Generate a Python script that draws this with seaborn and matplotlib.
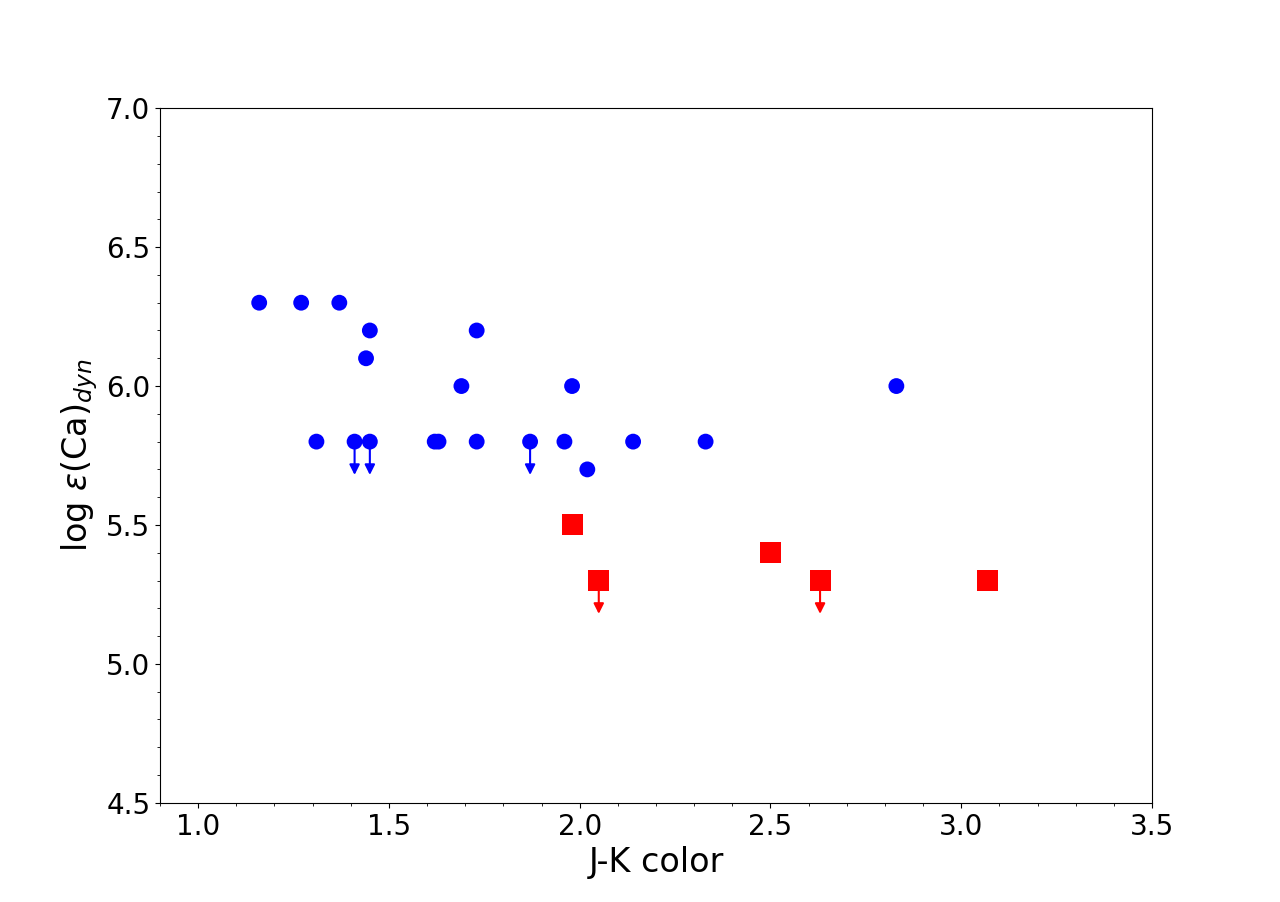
import numpy as np
import pandas as pd
import seaborn as sns
from matplotlib import pyplot as plt

# blue stars (circles)
blue_jk = [1.16, 1.27, 1.37, 1.45, 1.44, 1.31, 1.41, 1.45, 1.62, 1.63,
           1.69, 1.73, 1.73, 1.87, 1.96, 1.98, 2.02, 2.14, 2.33, 2.83]
blue_ca = [6.3, 6.3, 6.3, 6.2, 6.1, 5.8, 5.8, 5.8, 5.8, 5.8,
           6.0, 6.2, 5.8, 5.8, 5.8, 6.0, 5.7, 5.8, 5.8, 6.0]
blue_ul = [0, 0, 0, 0, 0, 0, 1, 1, 0, 0,
           0, 0, 0, 1, 0, 0, 0, 0, 0, 0]

# red stars (squares)
red_jk = [1.98, 2.05, 2.50, 2.63, 3.07]
red_ca = [5.5, 5.3, 5.4, 5.3, 5.3]
red_ul = [0, 1, 0, 1, 0]

blue = pd.DataFrame({'jk': blue_jk, 'ca': blue_ca, 'ul': blue_ul})
red = pd.DataFrame({'jk': red_jk, 'ca': red_ca, 'ul': red_ul})

fig, ax = plt.subplots(figsize=(12.8, 9.02), dpi=100)

# upper limit arrows
for d, c in [(blue, 'blue'), (red, 'red')]:
    lim = d[d['ul'] == 1]
    for x, y in zip(lim['jk'], lim['ca']):
        ax.annotate('', xy=(x, y - 0.12), xytext=(x, y),
                    arrowprops=dict(arrowstyle='-|>,head_length=0.6,head_width=0.3',
                                    color=c, lw=1.5, shrinkA=0, shrinkB=0))

sns.scatterplot(data=blue, x='jk', y='ca', ax=ax, color='blue', marker='o',
                s=130, edgecolor='none', zorder=3)
sns.scatterplot(data=red, x='jk', y='ca', ax=ax, color='red', marker='s',
                s=230, edgecolor='none', zorder=3)

ax.set_xlim(0.9, 3.5)
ax.set_ylim(4.5, 7.0)
ax.minorticks_on()
ax.tick_params(labelsize=20)
ax.set_xlabel('J-K color', fontsize=24)
ax.set_ylabel(r'log $\varepsilon$(Ca)$_{dyn}$', fontsize=24)

plt.savefig('out.png', dpi=100)
